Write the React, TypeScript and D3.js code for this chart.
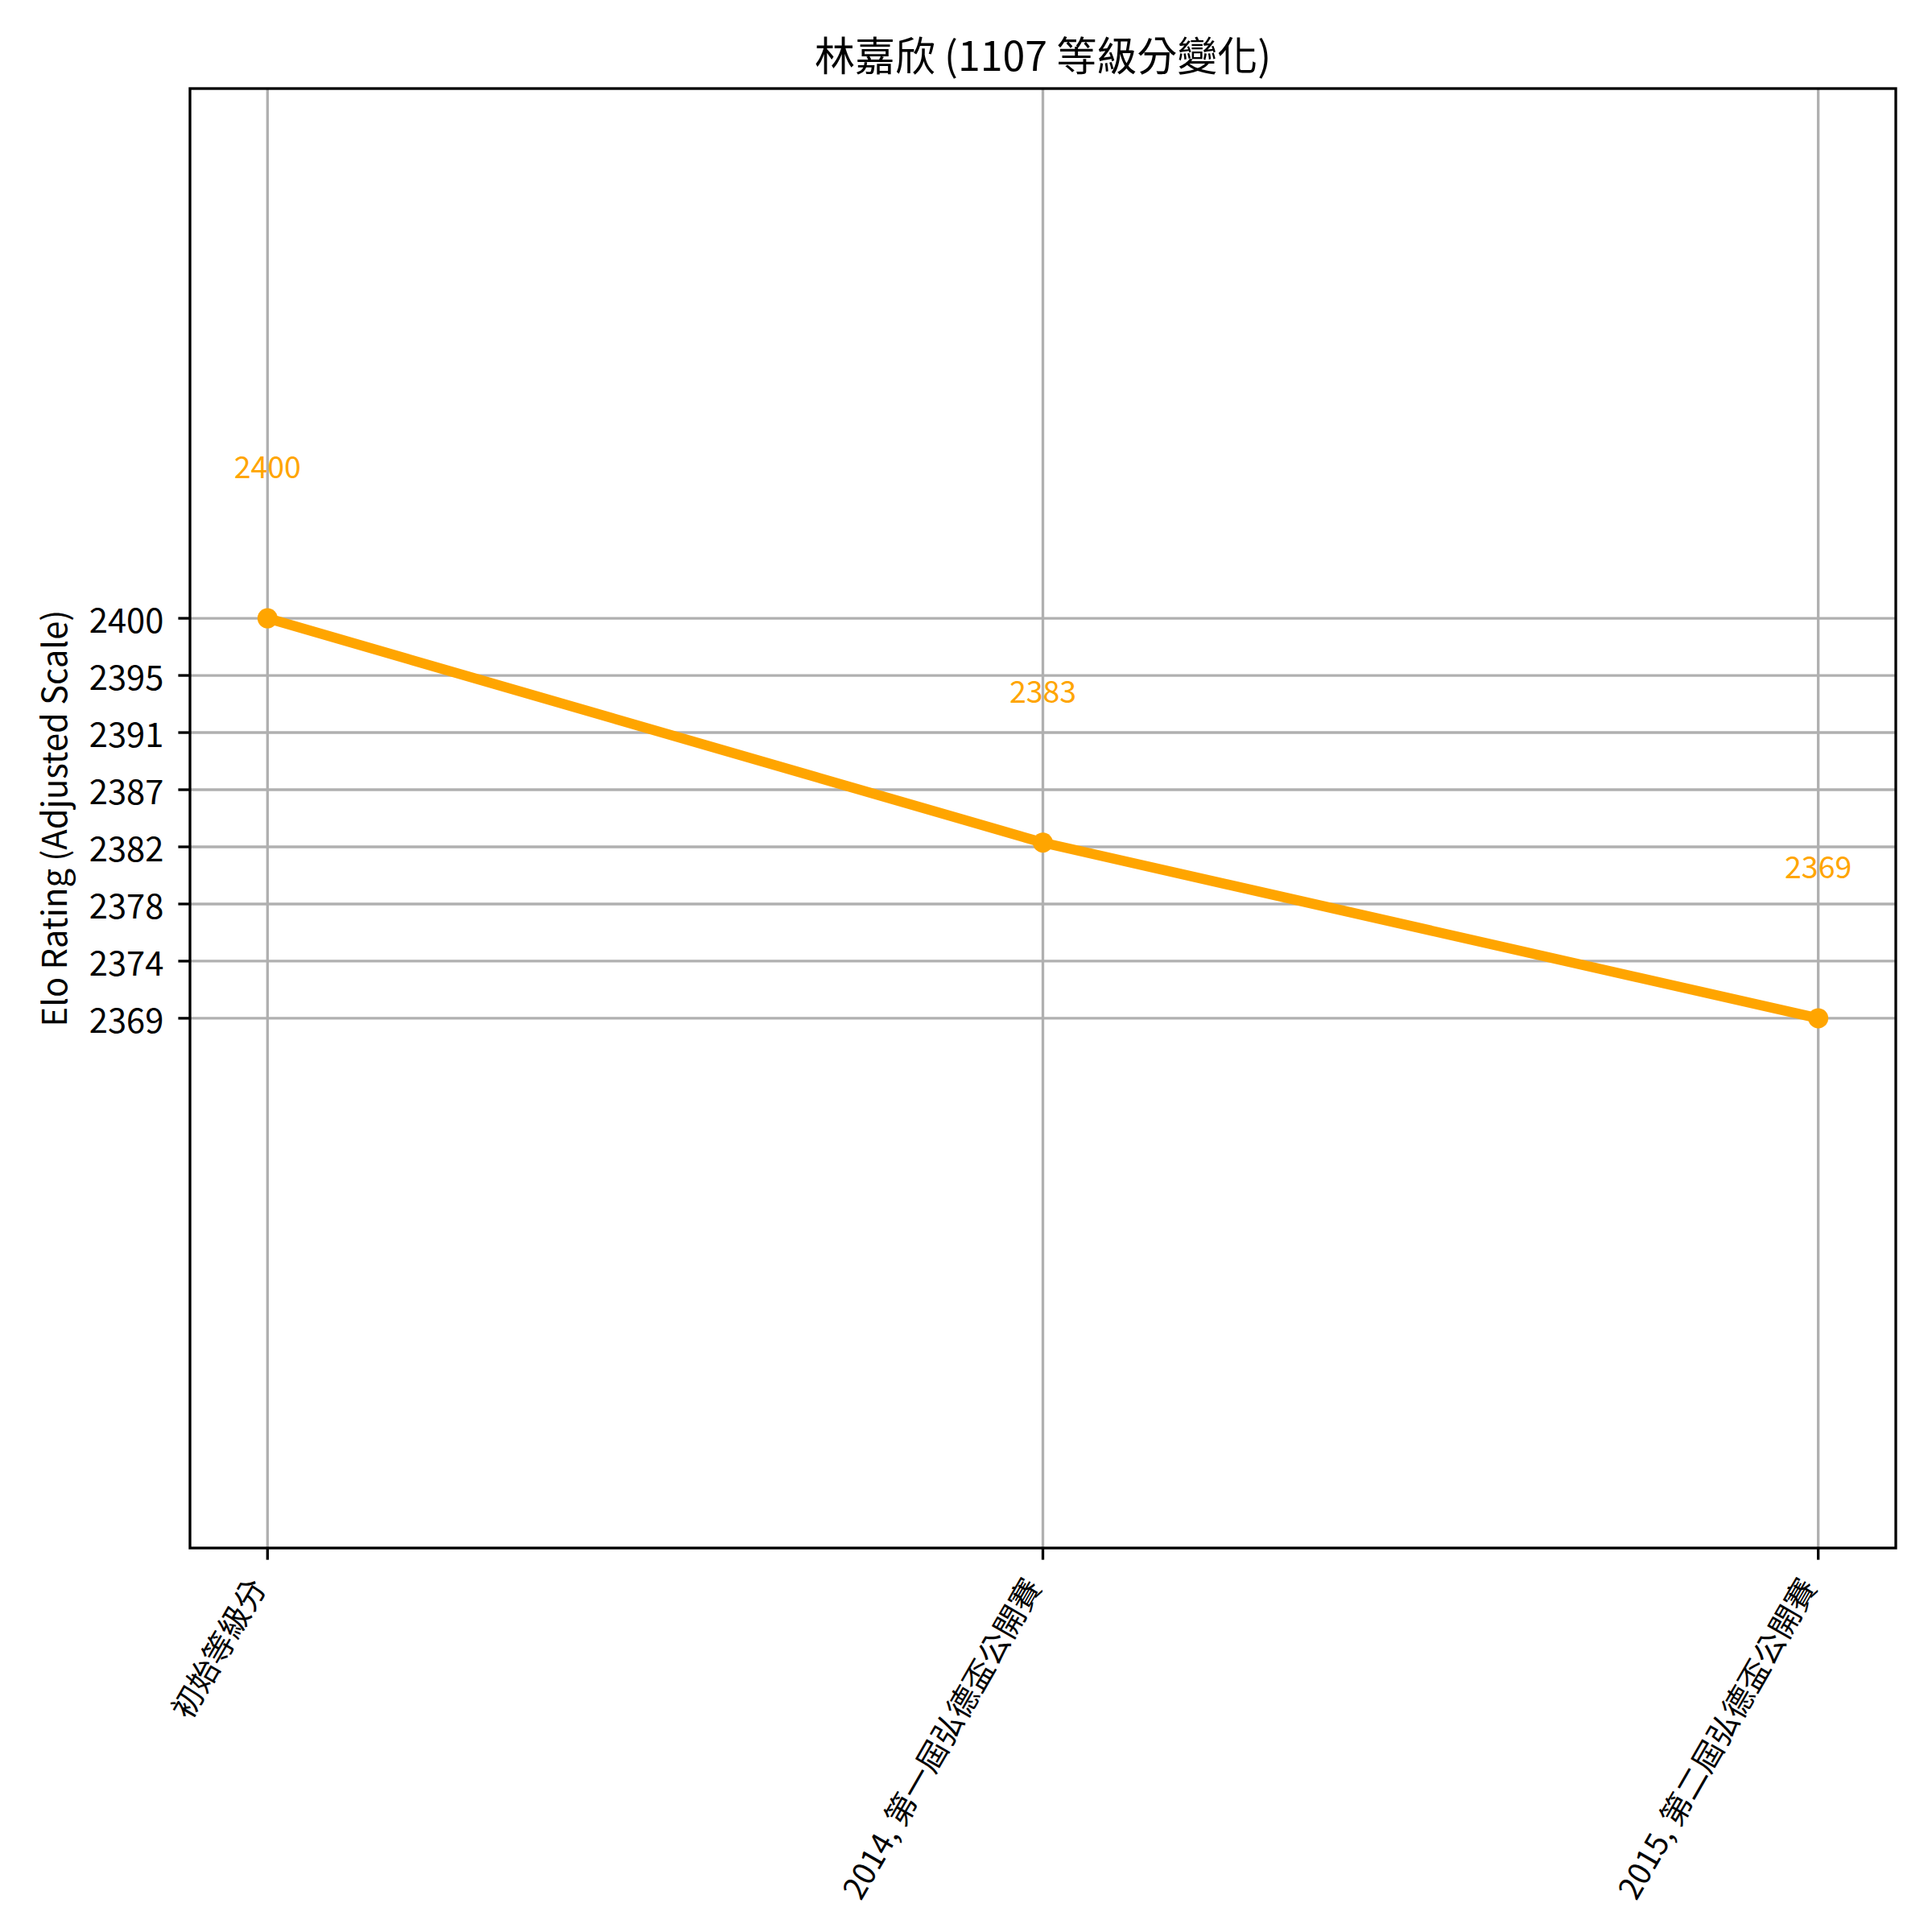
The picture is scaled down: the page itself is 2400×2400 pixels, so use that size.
import React from "react";
import * as d3 from "d3";

const title = "林嘉欣 (1107 等級分變化)";
const yLabel = "Elo Rating (Adjusted Scale)";
const categories = ["初始等級分", "2014, 第一屆弘德盃公開賽", "2015, 第二屆弘德盃公開賽"];
const ratings = [2400, 2383.06, 2369.8];
const yTickLabels = ["2369", "2374", "2378", "2382", "2387", "2391", "2395", "2400"];

const W = 2400;
const H = 2400;
const plot = { left: 236, right: 2355, top: 110, bottom: 1923 };
const FONT = '"Noto Sans CJK TC", "Noto Sans", sans-serif';
const ORANGE = "#FFA500";

export default function App() {
  React.useEffect(() => {
    document.body.style.margin = "0";
  }, []);

  const minV = d3.min(ratings) as number;
  const maxV = d3.max(ratings) as number;

  const x = d3
    .scaleLinear()
    .domain([-0.1, categories.length - 1 + 0.1])
    .range([plot.left, plot.right]);
  const y = d3
    .scaleLinear()
    .domain([minV - 40, maxV + 40])
    .range([plot.bottom, plot.top]);

  const yTicks = yTickLabels.map((_, i) => minV + (i * (maxV - minV)) / (yTickLabels.length - 1));

  const line = d3
    .line<number>()
    .x((_, i) => x(i))
    .y((d) => y(d));

  const tickLen = 14.6;
  const gridColor = "#b0b0b0";
  const gridW = 3.33;

  return (
    <svg
      width={W}
      height={H}
      style={{ position: "absolute", left: 0, top: 0, background: "#fff" }}
      fontFamily={FONT}
    >
      <rect x={0} y={0} width={W} height={H} fill="#fff" />
      {/* grid */}
      <g>
        {categories.map((_, i) => (
          <line
            key={"gx" + i}
            x1={x(i)}
            x2={x(i)}
            y1={plot.top}
            y2={plot.bottom}
            stroke={gridColor}
            strokeWidth={gridW}
          />
        ))}
        {yTicks.map((t, i) => (
          <line
            key={"gy" + i}
            x1={plot.left}
            x2={plot.right}
            y1={y(t)}
            y2={y(t)}
            stroke={gridColor}
            strokeWidth={gridW}
          />
        ))}
      </g>
      {/* line + markers */}
      <path d={line(ratings) || ""} fill="none" stroke={ORANGE} strokeWidth={12.5} strokeLinejoin="round" />
      {ratings.map((v, i) => (
        <circle key={"m" + i} cx={x(i)} cy={y(v)} r={12.5} fill={ORANGE} />
      ))}
      {/* annotations */}
      {ratings.map((v, i) => (
        <text
          key={"a" + i}
          x={x(i)}
          y={y(v + 10) - 9.5}
          textAnchor="middle"
          fontSize={37.5}
          fill={ORANGE}
        >
          {Math.floor(v)}
        </text>
      ))}
      {/* spines */}
      <rect
        x={plot.left}
        y={plot.top}
        width={plot.right - plot.left}
        height={plot.bottom - plot.top}
        fill="none"
        stroke="#000"
        strokeWidth={3.33}
      />
      {/* y ticks */}
      {yTicks.map((t, i) => (
        <g key={"yt" + i}>
          <line x1={plot.left - tickLen} x2={plot.left} y1={y(t)} y2={y(t)} stroke="#000" strokeWidth={3.33} />
          <text
            x={plot.left - tickLen - 18}
            y={y(t)}
            textAnchor="end"
            dominantBaseline="central"
            fontSize={41.7}
            fill="#000"
          >
            {yTickLabels[i]}
          </text>
        </g>
      ))}
      {/* x ticks */}
      {categories.map((c, i) => (
        <g key={"xt" + i}>
          <line x1={x(i)} x2={x(i)} y1={plot.bottom} y2={plot.bottom + tickLen} stroke="#000" strokeWidth={3.33} />
          <text
            transform={`translate(${x(i) - 15},${plot.bottom + 40}) rotate(-60)`}
            textAnchor="end"
            dominantBaseline="central"
            fontSize={38.5}
            fill="#000"
          >
            {c}
          </text>
        </g>
      ))}
      {/* y label */}
      <text
        transform={`translate(83,${(plot.top + plot.bottom) / 2}) rotate(-90)`}
        textAnchor="middle"
        fontSize={41.7}
        fill="#000"
      >
        {yLabel}
      </text>
      {/* title */}
      <text x={(plot.left + plot.right) / 2} y={88} textAnchor="middle" fontSize={50} fill="#000">
        {title}
      </text>
    </svg>
  );
}
